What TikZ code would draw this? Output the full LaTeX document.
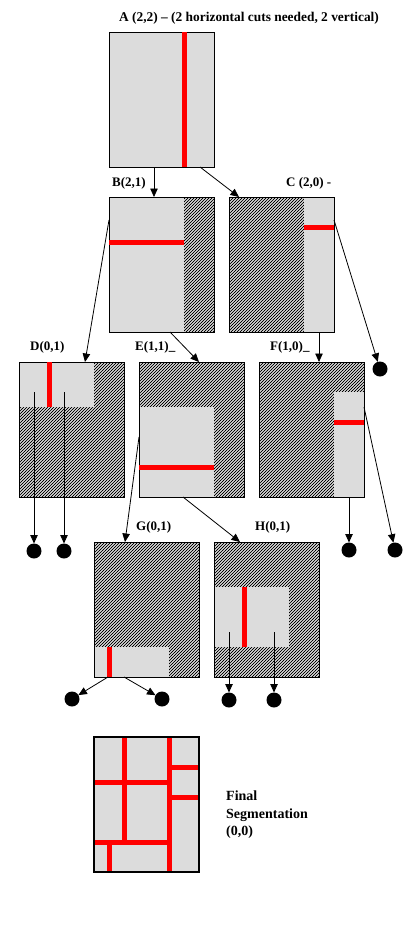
\documentclass[tikz,border=0pt]{standalone}
\usepackage{fontspec}
\setmainfont{Liberation Serif}
\usetikzlibrary{patterns.meta,arrows.meta,calc}
\definecolor{panel}{RGB}{220,220,220}
\definecolor{cut}{RGB}{255,0,0}
\begin{document}
\begin{tikzpicture}[x=1pt,y=-1pt,
 hbox/.style={draw=black,line width=0.9pt,minimum width=105pt,minimum height=135pt,inner sep=0pt,outer sep=0pt,anchor=north west,pattern={Lines[angle=45,distance=2.12132pt,line width=0.85pt]},pattern color=black},
 region/.style={fill=panel,inner sep=0pt,outer sep=0pt,anchor=north west,draw=none},
 frame/.style={draw=black,line width=0.9pt},
 cutline/.style={draw=cut,line width=5pt},
 conn/.style={draw=black,line width=0.8pt,-{Triangle[length=8.5pt,width=7.5pt]}},
 leaf/.style={circle,fill=black,minimum size=15pt,inner sep=0pt,outer sep=0pt},
 lbl/.style={font=\bfseries\fontsize{13}{15}\selectfont,anchor=base west,inner sep=0pt}]
\useasboundingbox (0,0) rectangle (420,932);
% title
\node[lbl,anchor=base,font=\bfseries\fontsize{13.4}{15}\selectfont] (title) at (249,21) {A (2,2) -- (2 horizontal cuts needed, 2 vertical)};
% A
\node[region,minimum width=105pt,minimum height=135pt] (A) at (109,32) {};
\draw[frame] (A.north west) rectangle (A.south east);
\draw[cutline] (184,32) -- (184,167);
% B
\node[lbl] (lB) at (112,186) {B(2,1)};
\node[hbox] (B) at (109,197) {};
\node[region,minimum width=75pt,minimum height=135pt] (Bg) at (109,197) {};
\draw[frame] (B.north west) rectangle (B.south east);
\draw[cutline] (109,242) -- (184,242);
% C
\node[lbl] (lC) at (286,186) {C (2,0) -};
\node[hbox] (C) at (229,197) {};
\node[region,minimum width=30pt,minimum height=135pt] (Cg) at (304,197) {};
\draw[frame] (C.north west) rectangle (C.south east);
\draw[cutline] (304,227) -- (334,227);
% D
\node[lbl] (lD) at (30,350) {D(0,1)};
\node[hbox] (D) at (19,362) {};
\node[region,minimum width=75pt,minimum height=45pt] (Dg) at (19,362) {};
\draw[frame] (D.north west) rectangle (D.south east);
\draw[cutline] (49,362) -- (49,407);
% E
\node[lbl] (lE) at (135,350) {E(1,1)\textunderscore};
\node[hbox] (E) at (139,362) {};
\node[region,minimum width=75pt,minimum height=90pt] (Eg) at (139,407) {};
\draw[frame] (E.north west) rectangle (E.south east);
\draw[cutline] (139,467) -- (214,467);
% F
\node[lbl] (lF) at (270,350) {F(1,0)\textunderscore};
\node[hbox] (F) at (259,362) {};
\node[region,minimum width=30pt,minimum height=105pt] (Fg) at (334,392) {};
\draw[frame] (F.north west) rectangle (F.south east);
\draw[cutline] (334,422) -- (364,422);
% G
\node[lbl] (lG) at (136,530) {G(0,1)};
\node[hbox] (G) at (94,542) {};
\node[region,minimum width=75pt,minimum height=30pt] (Gg) at (94,647) {};
\draw[frame] (G.north west) rectangle (G.south east);
\draw[cutline] (109,647) -- (109,677);
% H
\node[lbl] (lH) at (255,530) {H(0,1)};
\node[hbox] (H) at (214,542) {};
\node[region,minimum width=75pt,minimum height=60pt] (Hg) at (214,587) {};
\draw[frame] (H.north west) rectangle (H.south east);
\draw[cutline] (244,587) -- (244,647);
% final
\node[region,minimum width=105pt,minimum height=135pt] (Fin) at (94,737) {};
\draw[cutline] (124,737) -- (124,842);
\draw[cutline] (169,737) -- (169,872);
\draw[cutline] (94,782) -- (169,782);
\draw[cutline] (94,842) -- (169,842);
\draw[cutline] (109,842) -- (109,872);
\draw[cutline] (169,767) -- (199,767);
\draw[cutline] (169,797) -- (199,797);
\draw[draw=black,line width=2pt] (Fin.north west) rectangle (Fin.south east);
\node[font=\bfseries\fontsize{14}{17.5}\selectfont,align=left,anchor=west,inner sep=0pt] (lFin) at (226,815) {Final\\Segmentation\\(0,0)};
% leaves
\node[leaf] (c1) at (380,369) {};
\node[leaf] (d1) at (34,551) {};
\node[leaf] (d2) at (64,551) {};
\node[leaf] (f1) at (349,550) {};
\node[leaf] (f2) at (395,550) {};
\node[leaf] (g1) at (72,699) {};
\node[leaf] (g2) at (162,699) {};
\node[leaf] (h1) at (229,700) {};
\node[leaf] (h2) at (274,700) {};
% connector start points
\coordinate (a1) at (154,167);
\coordinate (a2) at (200,167);
\coordinate (bB) at (154,197);
\coordinate (cC) at (239,197);
\coordinate (b1) at (109,220);
\coordinate (dD) at (85,362);
\coordinate (b2) at (170,332);
\coordinate (eE) at (199,362);
\coordinate (c0) at (319,332);
\coordinate (fF) at (319,362);
\coordinate (c2) at (334,220);
\coordinate (ds1) at (34,392);
\coordinate (ds2) at (64,392);
\coordinate (e1) at (139,437);
\coordinate (gG) at (125,542);
\coordinate (e2) at (183,497);
\coordinate (hH) at (240,542);
\coordinate (fs1) at (349,497);
\coordinate (fs2) at (364,407);
\coordinate (gs1) at (108,677);
\coordinate (gs2) at (124,677);
\coordinate (hs1) at (229,632);
\coordinate (hs2) at (274,632);
% connectors
\draw[conn] (a1) -- (bB);
\draw[conn] (a2) -- (cC);
\draw[conn] (b1) -- (dD);
\draw[conn] (b2) -- (eE);
\draw[conn] (c0) -- (fF);
\draw[conn] (c2) -- (c1);
\draw[conn] (ds1) -- (d1);
\draw[conn] (ds2) -- (d2);
\draw[conn] (e1) -- (gG);
\draw[conn] (e2) -- (hH);
\draw[conn] (fs1) -- (f1);
\draw[conn] (fs2) -- (f2);
\draw[conn] (gs1) -- (g1);
\draw[conn] (gs2) -- (g2);
\draw[conn] (hs1) -- (h1);
\draw[conn] (hs2) -- (h2);
\end{tikzpicture}
\end{document}
